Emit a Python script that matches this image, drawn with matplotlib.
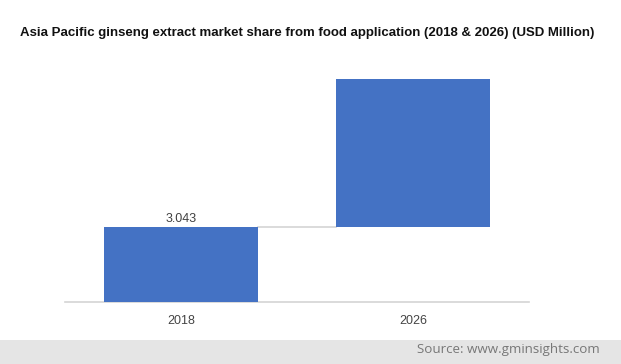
import matplotlib.pyplot as plt
import matplotlib.patches as mpatches

categories = ['2018', '2026']
values = [3.043, 9.0]
labels = ['3.043', '']

W, H = 621, 364
fig = plt.figure(figsize=(W / 100, H / 100), dpi=100)
ax = fig.add_axes([65 / W, (364 - 302) / H, (529 - 65) / W, (302 - 60) / H])

bar_w = 0.66
color = '#4472C4'
x = list(range(len(categories)))
bottoms = [0, values[0]]
heights = [values[0], values[1] - values[0]]
ax.bar(x, heights, bottom=bottoms, width=bar_w, color=color, zorder=3)

# connector line
ax.plot([x[0] + bar_w / 2, x[1] - bar_w / 2], [values[0], values[0]],
        color='#d4d4d4', lw=1.2, zorder=2)

for xi, v, lab in zip(x, values, labels):
    if lab:
        ax.text(xi, v + 0.08, lab, ha='center', va='bottom', fontsize=9,
                color='#404040', family='Liberation Sans')

ax.set_xlim(-0.5, 1.5)
ax.set_ylim(0, (302 - 60) / (75.5 / 3.043))
ax.set_xticks(x)
ax.set_xticklabels(categories, fontsize=9, color='#444444', family='Liberation Sans')
ax.tick_params(axis='x', length=0, pad=9)
ax.set_yticks([])
for s in ['top', 'right', 'left']:
    ax.spines[s].set_visible(False)
ax.spines['bottom'].set_color('#d4d4d4')
ax.spines['bottom'].set_linewidth(1.2)

fig.text(20 / W, 1 - 33 / H, 'Asia Pacific ginseng extract market share from food application (2018 & 2026) (USD Million)',
         ha='left', va='center', fontsize=9.55, fontweight='bold', color='#111111',
         family='Liberation Sans')

# footer band
fig.patches.append(mpatches.Rectangle((0, 0), 1, 24 / H, transform=fig.transFigure,
                                      facecolor='#e5e5e5', edgecolor='none', zorder=0))
fig.text(600 / W, 1 - 349 / H, 'Source: www.gminsights.com', ha='right', va='center',
         fontsize=9.6, color='#777777', family='Open Sans')

fig.savefig('out.png', dpi=100)
